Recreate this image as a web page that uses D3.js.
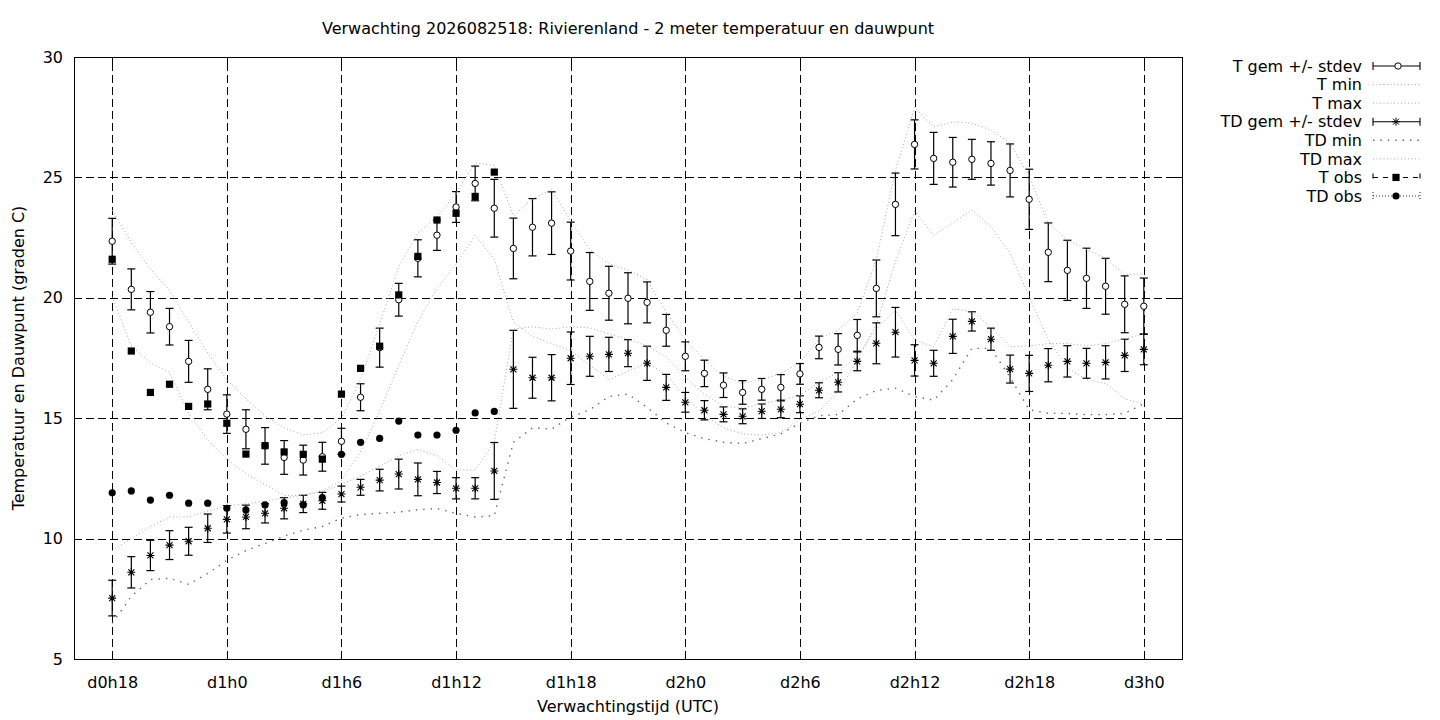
<!DOCTYPE html>
<html>
<head>
<meta charset="utf-8">
<script src="https://cdn.jsdelivr.net/npm/d3@7/dist/d3.min.js"></script>
<style>
  body { margin: 0; background: #fff; }
  text { font-family: "DejaVu Sans", sans-serif; font-size: 16px; fill: #000; }
</style>
</head>
<body>
<div id="chart"></div>
<script>
// forecast hours (hours since d0h0), one per ensemble step
var hours = [18,19,20,21,22,23,24,25,26,27,28,29,30,31,32,33,34,35,36,37,
             38,39,40,41,42,43,44,45,46,47,48,49,50,51,52,53,54,55,56,57,
             58,59,60,61,62,63,64,65,66,67,68,69,70,71,72];

var tMean = [22.35,20.35,19.4,18.8,17.36,16.2,15.17,14.54,13.85,13.37,
             13.26,13.4,14.04,15.87,17.93,19.92,21.64,22.6,23.77,24.75,
             23.72,22.05,22.93,23.1,21.94,20.68,20.19,19.98,19.81,18.65,
             17.57,16.86,16.37,16.07,16.2,16.28,16.84,17.94,17.86,18.44,
             20.39,23.88,26.37,25.79,25.63,25.75,25.58,25.29,24.09,21.89,
             21.14,20.81,20.48,19.73,19.65];
var tSd = [0.95,0.85,0.86,0.76,0.87,0.85,0.8,0.81,0.76,0.7,
           0.62,0.6,0.54,0.56,0.81,0.68,0.77,0.63,0.64,0.72,
           1.2,1.26,1.19,1.3,1.2,1.2,1.12,1.06,0.85,0.66,
           0.6,0.55,0.51,0.49,0.45,0.53,0.43,0.47,0.65,0.66,
           1.18,1.3,1.02,1.08,1.03,0.83,0.9,1.1,1.25,1.22,
           1.25,1.25,1.16,1.18,1.17];
var tMin = [20.05,18.0,17.3,16.9,15.2,14.1,13.3,12.7,12.25,11.8,
            11.8,12.0,12.4,13.6,15.3,17.2,19.0,20.4,21.4,22.6,
            21.6,19.0,18.4,18.1,17.8,17.2,16.6,16.95,17.3,16.8,
            15.9,15.1,14.6,14.35,14.3,14.4,14.95,15.3,16.1,17.4,
            18.9,21.5,23.6,22.6,23.1,23.65,22.95,21.85,20.05,18.25,
            17.1,16.6,16.45,15.8,15.6];
var tMax = [23.65,22.3,21.2,20.3,19.0,17.7,16.6,15.8,15.1,14.6,
            14.3,14.4,15.0,16.6,18.9,21.3,22.7,23.35,24.35,25.6,
            25.5,23.4,24.1,24.5,23.2,22.0,21.4,21.15,20.75,19.4,
            18.25,17.42,16.75,16.45,16.6,16.86,17.3,18.3,18.66,19.36,
            21.6,25.3,27.9,27.1,27.3,27.25,26.97,26.42,25.05,23.1,
            22.4,22.0,21.65,20.95,21.0];

var tdMean = [7.53,8.6,9.3,9.73,9.89,10.43,10.8,10.9,11.05,11.26,
              11.44,11.57,11.85,12.13,12.43,12.68,12.46,12.33,12.09,12.09,
              12.81,17.03,16.68,16.68,17.49,17.57,17.65,17.7,17.28,16.28,
              15.66,15.33,15.16,15.08,15.29,15.37,15.58,16.16,16.49,17.36,
              18.11,18.57,17.4,17.28,18.4,19.02,18.28,17.04,16.86,17.2,
              17.36,17.28,17.32,17.61,17.86];
var tdSd = [0.74,0.65,0.63,0.6,0.58,0.59,0.57,0.49,0.4,0.44,
            0.36,0.35,0.33,0.33,0.45,0.62,0.68,0.46,0.44,0.44,
            1.18,1.62,0.85,0.96,1.09,0.83,0.71,0.56,0.71,0.54,
            0.41,0.4,0.31,0.31,0.3,0.35,0.35,0.31,0.4,0.39,
            0.85,1.03,0.65,0.54,0.71,0.4,0.46,0.58,0.75,0.69,
            0.65,0.62,0.69,0.67,0.64];
var tdMin = [6.48,7.6,8.3,8.35,8.1,8.55,9.1,9.5,9.8,10.1,
             10.35,10.5,10.85,11.0,11.05,11.1,11.2,11.25,11.05,10.9,
             10.95,14.0,14.6,14.55,15.05,15.35,15.9,16.0,15.45,14.8,
             14.4,14.15,14.0,13.95,14.15,14.35,14.8,15.1,15.15,15.8,
             16.15,16.25,15.9,15.75,16.6,17.9,17.9,16.7,15.35,15.2,
             15.2,15.15,15.15,15.2,15.6];
var tdMax = [9.5,10.0,10.5,10.9,10.9,11.15,11.35,11.45,11.55,11.7,
             11.8,11.95,12.25,12.6,13.0,13.45,13.7,13.45,12.85,12.85,
             14.0,18.7,18.8,18.7,18.8,18.75,18.5,18.3,18.0,17.55,
             16.7,16.0,15.5,15.42,15.6,15.75,15.95,16.5,16.9,17.6,
             18.7,19.5,18.25,17.97,19.55,19.42,18.8,17.97,18.0,18.1,
             18.1,18.0,18.1,18.3,18.5];

// observations, available up to d1h14
var obsHours = [18,19,20,21,22,23,24,25,26,27,28,29,30,31,32,33,34,35,36,37,38];
var tObs = [21.6,17.79,16.07,16.41,15.49,15.59,14.79,13.51,13.86,13.6,
            13.5,13.3,16.0,17.07,17.99,20.12,21.72,23.23,23.51,24.21,25.22];
var tdObs = [11.9,11.98,11.6,11.8,11.47,11.47,11.26,11.19,11.4,11.49,
             11.4,11.7,13.5,14.0,14.16,14.88,14.3,14.3,14.5,15.22,15.28];

var tickHours = [18,24,30,36,42,48,54,60,66,72];
var tickLabels = ['d0h18','d1h0','d1h6','d1h12','d1h18','d2h0','d2h6','d2h12','d2h18','d3h0'];
var yTicks = [5,10,15,20,25,30];

var legendLabels = ['T gem +/- stdev','T min','T max','TD gem +/- stdev',
                    'TD min','TD max','T obs','TD obs'];

// plot box (window.top is reserved, so no plain "top")
var boxLeft = 74, boxRight = 1182, boxTop = 57, boxBottom = 659;

var svg = d3.select('#chart').append('svg')
            .attr('width', 1440)
            .attr('height', 720);

var x = d3.scaleLinear().domain([16, 74]).range([boxLeft, boxRight]);
var y = d3.scaleLinear().domain([5, 30]).range([boxBottom, boxTop]);

// grid
svg.append('g')
   .attr('transform', 'translate(0,' + boxBottom + ')')
   .call(d3.axisBottom(x).tickValues(tickHours).tickSize(-(boxBottom - boxTop)).tickFormat(''))
   .call(function(g) { g.select('.domain').remove(); })
   .selectAll('line')
   .attr('stroke', '#000').attr('stroke-dasharray', '8,4')
   .attr('shape-rendering', 'crispEdges');

svg.append('g')
   .attr('transform', 'translate(' + boxLeft + ',0)')
   .call(d3.axisLeft(y).tickValues(yTicks.slice(1, -1)).tickSize(-(boxRight - boxLeft)).tickFormat(''))
   .call(function(g) { g.select('.domain').remove(); })
   .selectAll('line')
   .attr('stroke', '#000').attr('stroke-dasharray', '8,4')
   .attr('shape-rendering', 'crispEdges');

// tick marks (inward, mirrored) and labels
var xAxis = svg.append('g')
   .attr('transform', 'translate(0,' + boxBottom + ')')
   .call(d3.axisBottom(x).tickValues(tickHours).tickSize(-8).tickPadding(18)
           .tickFormat(function(d, i) { return tickLabels[i]; }));
xAxis.select('.domain').remove();
xAxis.selectAll('line').attr('stroke', '#000').attr('shape-rendering', 'crispEdges');
xAxis.selectAll('text').attr('font-size', 16).attr('font-family', 'DejaVu Sans');

svg.append('g')
   .attr('transform', 'translate(0,' + boxTop + ')')
   .call(d3.axisTop(x).tickValues(tickHours).tickSize(-8).tickFormat(''))
   .call(function(g) { g.select('.domain').remove(); })
   .selectAll('line').attr('shape-rendering', 'crispEdges');

var yAxis = svg.append('g')
   .attr('transform', 'translate(' + boxLeft + ',0)')
   .call(d3.axisLeft(y).tickValues(yTicks).tickSize(-8).tickPadding(11));
yAxis.select('.domain').remove();
yAxis.selectAll('line').attr('stroke', '#000').attr('shape-rendering', 'crispEdges');
yAxis.selectAll('text').attr('font-size', 16).attr('font-family', 'DejaVu Sans');

svg.append('g')
   .attr('transform', 'translate(' + boxRight + ',0)')
   .call(d3.axisRight(y).tickValues(yTicks).tickSize(-8).tickFormat(''))
   .call(function(g) { g.select('.domain').remove(); })
   .selectAll('line').attr('shape-rendering', 'crispEdges');

// border
svg.append('rect')
   .attr('x', boxLeft).attr('y', boxTop)
   .attr('width', boxRight - boxLeft).attr('height', boxBottom - boxTop)
   .attr('fill', 'none').attr('stroke', '#000').attr('stroke-width', 1)
   .attr('shape-rendering', 'crispEdges');

// titles
svg.append('text')
   .attr('x', (boxLeft + boxRight) / 2).attr('y', 34)
   .attr('text-anchor', 'middle')
   .text('Verwachting 2026082518: Rivierenland - 2 meter temperatuur en dauwpunt');

svg.append('text')
   .attr('x', (boxLeft + boxRight) / 2).attr('y', 712)
   .attr('text-anchor', 'middle')
   .text('Verwachtingstijd (UTC)');

svg.append('text')
   .attr('transform', 'translate(24,' + ((boxTop + boxBottom) / 2) + ') rotate(-90)')
   .attr('text-anchor', 'middle')
   .text('Temperatuur en Dauwpunt (graden C)');

var plot = svg.append('g');

// helpers
function asterisk(s) {
  var d = s * 0.75;
  return 'M' + (-s) + ',0L' + s + ',0M0,' + (-s) + 'L0,' + s +
         'M' + (-d) + ',' + (-d) + 'L' + d + ',' + d +
         'M' + (-d) + ',' + d + 'L' + d + ',' + (-d);
}

function errorBars(g, mean, sd) {
  var rows = hours.map(function(h, i) { return {h: h, m: mean[i], s: sd[i]}; });
  var bars = g.append('g').selectAll('g').data(rows).enter().append('g')
              .attr('stroke', '#000').attr('stroke-width', 1.2);
  bars.append('line')
      .attr('x1', function(d) { return x(d.h); }).attr('x2', function(d) { return x(d.h); })
      .attr('y1', function(d) { return y(d.m - d.s); }).attr('y2', function(d) { return y(d.m + d.s); });
  bars.append('line')
      .attr('x1', function(d) { return x(d.h) - 4; }).attr('x2', function(d) { return x(d.h) + 4; })
      .attr('y1', function(d) { return y(d.m + d.s); }).attr('y2', function(d) { return y(d.m + d.s); });
  bars.append('line')
      .attr('x1', function(d) { return x(d.h) - 4; }).attr('x2', function(d) { return x(d.h) + 4; })
      .attr('y1', function(d) { return y(d.m - d.s); }).attr('y2', function(d) { return y(d.m - d.s); });
  return rows;
}

function rangeLine(values, color, dash, width) {
  var line = d3.line()
               .x(function(d, i) { return x(hours[i]); })
               .y(function(d) { return y(d); });
  plot.append('path')
      .datum(values)
      .attr('d', line)
      .attr('fill', 'none')
      .attr('stroke', color)
      .attr('stroke-width', width || 1)
      .attr('stroke-dasharray', dash);
}

var fineGrey = '#a8a8a8', fineDash = '1,2.5';
var coarseGrey = '#666', coarseDash = '1.4,6';

// T mean +/- stdev
var tRows = errorBars(plot, tMean, tSd);
plot.append('g').selectAll('circle').data(tRows).enter().append('circle')
    .attr('cx', function(d) { return x(d.h); })
    .attr('cy', function(d) { return y(d.m); })
    .attr('r', 3.2)
    .attr('fill', '#fff').attr('stroke', '#000').attr('stroke-width', 1);

rangeLine(tMin, fineGrey, fineDash);
rangeLine(tMax, fineGrey, fineDash);

// TD mean +/- stdev
var tdRows = errorBars(plot, tdMean, tdSd);
plot.append('g').selectAll('path').data(tdRows).enter().append('path')
    .attr('transform', function(d) { return 'translate(' + x(d.h) + ',' + y(d.m) + ')'; })
    .attr('d', asterisk(4))
    .attr('stroke', '#000').attr('stroke-width', 1.1).attr('fill', 'none');

rangeLine(tdMin, coarseGrey, coarseDash, 1.4);
rangeLine(tdMax, fineGrey, fineDash);

// observations
plot.append('g').selectAll('rect').data(obsHours).enter().append('rect')
    .attr('x', function(d) { return x(d) - 3.6; })
    .attr('y', function(d, i) { return y(tObs[i]) - 3.6; })
    .attr('width', 7.2).attr('height', 7.2)
    .attr('fill', '#000');

plot.append('g').selectAll('circle').data(obsHours).enter().append('circle')
    .attr('cx', function(d) { return x(d); })
    .attr('cy', function(d, i) { return y(tdObs[i]); })
    .attr('r', 3.6)
    .attr('fill', '#000');

// legend
var legendY = d3.scalePoint().domain(legendLabels).range([66, 196]);
var lx1 = 1373, lx2 = 1420, lxm = 1396;
var legend = svg.append('g');

legend.selectAll('text').data(legendLabels).enter().append('text')
      .attr('x', 1362)
      .attr('y', function(d) { return legendY(d); })
      .attr('dy', '0.36em')
      .attr('text-anchor', 'end')
      .text(function(d) { return d; });

function legendBar(label, dash, color) {
  var ly = legendY(label);
  var g = legend.append('g').attr('stroke', color || '#000').attr('stroke-width', 1.1)
                .attr('stroke-dasharray', dash || null);
  g.append('line').attr('x1', lx1).attr('x2', lx2).attr('y1', ly).attr('y2', ly);
  g.append('line').attr('x1', lx1).attr('x2', lx1).attr('y1', ly - 4).attr('y2', ly + 4);
  g.append('line').attr('x1', lx2).attr('x2', lx2).attr('y1', ly - 4).attr('y2', ly + 4);
  return ly;
}

function legendLine(label, color, dash, width) {
  var ly = legendY(label);
  legend.append('line')
        .attr('x1', lx1).attr('x2', lx2).attr('y1', ly).attr('y2', ly)
        .attr('stroke', color).attr('stroke-width', width || 1).attr('stroke-dasharray', dash);
}

var ly0 = legendBar(legendLabels[0]);
legend.append('circle').attr('cx', lxm + 2).attr('cy', ly0).attr('r', 3.2)
      .attr('fill', '#fff').attr('stroke', '#000');
legendLine(legendLabels[1], fineGrey, fineDash);
legendLine(legendLabels[2], fineGrey, fineDash);
var ly3 = legendBar(legendLabels[3]);
legend.append('path').attr('transform', 'translate(' + lxm + ',' + ly3 + ')')
      .attr('d', asterisk(4)).attr('stroke', '#000').attr('fill', 'none');
legendLine(legendLabels[4], coarseGrey, coarseDash, 1.4);
legendLine(legendLabels[5], fineGrey, fineDash);
var ly6 = legendBar(legendLabels[6], '5,5');
legend.append('rect').attr('x', lxm - 3.6).attr('y', ly6 - 3.6)
      .attr('width', 7.2).attr('height', 7.2).attr('fill', '#000');
var ly7 = legendBar(legendLabels[7], '1,2', '#333');
legend.append('circle').attr('cx', lxm).attr('cy', ly7).attr('r', 3.6).attr('fill', '#000');
</script>
</body>
</html>
